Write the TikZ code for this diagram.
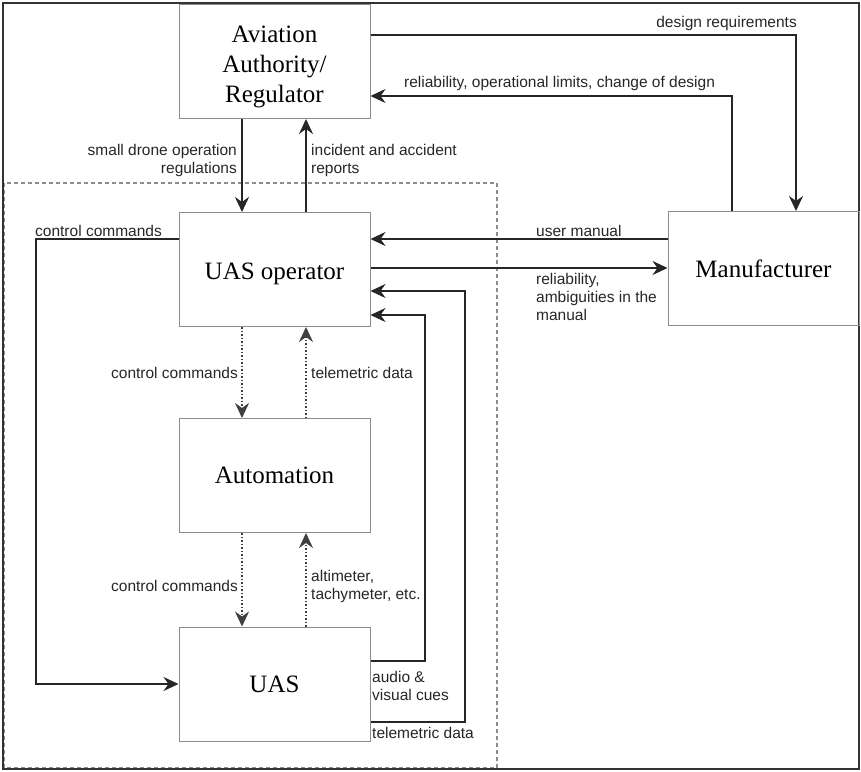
\documentclass[tikz,border=0pt]{standalone}
\usepackage{fontspec}
\setmainfont{Liberation Serif}
\newfontfamily\lblfont{Liberation Sans}
\usetikzlibrary{arrows.meta}
\begin{document}
\begin{tikzpicture}[x=1pt,y=-1pt,
  box/.style={draw=black!45,line width=1pt,minimum width=191pt,minimum height=114pt,inner sep=0pt,align=center,font=\fontsize{25}{30}\selectfont},
  arr/.style={line width=2pt,draw=black!85,-{Stealth[length=15pt,width=14pt,inset=5pt]}},
  dotarr/.style={line width=1.5pt,draw=black!75,dash pattern=on 1.5pt off 2pt,-{Stealth[length=15pt,width=14pt,inset=5pt]}},
  lbl/.style={inner sep=0pt,font=\lblfont\fontsize{15.5}{18}\selectfont,text=black!85}
]
\useasboundingbox (0,0) rectangle (861,771);
% dashed system boundary
\draw[black!45,line width=1.3pt,dash pattern=on 4pt off 3pt] (4,183) rectangle (497,768);
% outer frame
\draw[black!80,line width=2pt] (2.5,2.5) rectangle (859,768.5);

% boxes
\node[box] (avi) at (274.5,61.5) {\rule{0pt}{28pt}Aviation\\Authority/\\Regulator};
\node[box] (op) at (274.5,269.5) {\rule{0pt}{26pt}UAS operator};
\node[box] (auto) at (274.5,475.5) {Automation};
\node[box] (uas) at (274.5,684) {UAS};
\node[box] (man) at (763.5,268.5) {Manufacturer};

% helper coordinates
\coordinate (cA) at (242,0);
\coordinate (cB) at (306,0);
\coordinate (cL) at (36,0);
\coordinate (cAud) at (425,0);
\coordinate (cTel) at (465,0);
\coordinate (cRel) at (732,0);
\coordinate (cDes) at (796,0);
\coordinate (rDes) at (0,35);
\coordinate (rRel) at (0,96);
\coordinate (rUM) at (0,239);
\coordinate (rRA) at (0,268);
\coordinate (rTelTop) at (0,291);
\coordinate (rAudTop) at (0,315);
\coordinate (rAud) at (0,661);
\coordinate (rTel) at (0,722);

% connectors
\draw[arr] (avi.south -| cA) -- (op.north -| cA);
\draw[arr] (op.north -| cB) -- (avi.south -| cB);
\draw[arr] (avi.east |- rDes) -- (cDes |- rDes) -- (man.north -| cDes);
\draw[arr] (man.north -| cRel) -- (cRel |- rRel) -- (avi.east |- rRel);
\draw[arr] (man.west |- rUM) -- (op.east |- rUM);
\draw[arr] (op.east |- rRA) -- (man.west |- rRA);
\draw[arr] (op.west |- rUM) -- (cL |- rUM) -- (cL |- uas.west) -- (uas.west);
\draw[dotarr] (op.south -| cA) -- (auto.north -| cA);
\draw[dotarr] (auto.north -| cB) -- (op.south -| cB);
\draw[dotarr] (auto.south -| cA) -- (uas.north -| cA);
\draw[dotarr] (uas.north -| cB) -- (auto.south -| cB);
\draw[arr] (uas.east |- rAud) -- (cAud |- rAud) -- (cAud |- rAudTop) -- (op.east |- rAudTop);
\draw[arr] (uas.east |- rTel) -- (cTel |- rTel) -- (cTel |- rTelTop) -- (op.east |- rTelTop);

% labels
\node[lbl,anchor=east,align=right] (l1) at (237,160) {small drone operation\\regulations};
\node[lbl,anchor=west,align=left] (l2) at (311,160) {incident and accident\\reports};
\node[lbl,anchor=east] (l3) at (797,23) {design requirements};
\node[lbl,anchor=west] (l4) at (404,83) {reliability, operational limits, change of design};
\node[lbl,anchor=west] (l5) at (536,231) {user manual};
\node[lbl,anchor=north west,align=left] (l6) at (536,273) {reliability,\\ambiguities in the\\manual};
\node[lbl,anchor=west] (l7) at (35,231) {control commands};
\node[lbl,anchor=east] (l8) at (238,373) {control commands};
\node[lbl,anchor=west] (l9) at (311,373) {telemetric data};
\node[lbl,anchor=east] (l10) at (238,586) {control commands};
\node[lbl,anchor=west,align=left] (l11) at (311,586) {altimeter,\\tachymeter, etc.};
\node[lbl,anchor=west,align=left] (l12) at (372,686) {audio \&\\visual cues};
\node[lbl,anchor=west] (l13) at (372,733) {telemetric data};
\end{tikzpicture}
\end{document}
